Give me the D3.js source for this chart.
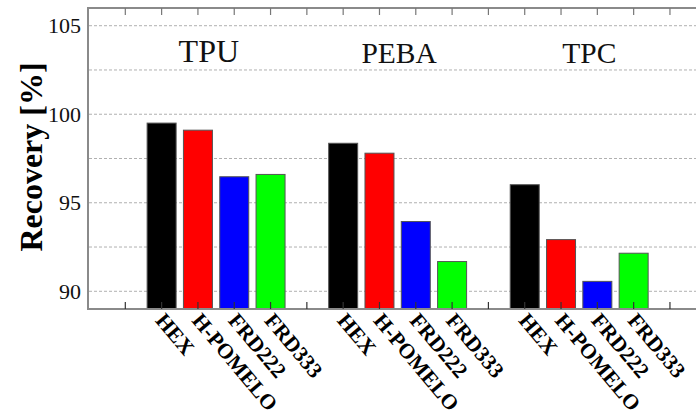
<!DOCTYPE html>
<html><head><meta charset="utf-8">
<script src="https://cdn.jsdelivr.net/npm/d3@7"></script>
<style>html,body{margin:0;padding:0;background:#fff;}svg{display:block;}
text{font-family:"Liberation Serif","Times New Roman",Times,serif;}</style>
</head><body>
<script>
const groups = ["TPU", "PEBA", "TPC"];
const methods = ["HEX", "H-POMELO", "FRD222", "FRD333"];
const tpuValues = [99.5, 99.1, 96.47, 96.6];
const pebaValues = [98.36, 97.8, 93.94, 91.68];
const tpcValues = [96.02, 92.92, 90.56, 92.15];
const yTickLabels = [90, 95, 100, 105];
const gridValues = [90, 92.5, 95, 97.5, 100, 102.5, 105];
const colors = ["#000000", "#ff0000", "#0000ff", "#00ff00"];

const seriesByGroup = [tpuValues, pebaValues, tpcValues];
const W = 696, H = 418;
const svg = d3.select("body").append("svg").attr("width", W).attr("height", H);

const x = d3.scaleLinear().domain([0, 17]).range([89, 89 + 17 * 36.31]);
const y = d3.scaleLinear().domain([89, 106]).range([309, 8]);
const slot = (g, m) => 2 + g * 5 + m;
const bw = 29;

// grid
svg.append("g").selectAll("line").data(gridValues).join("line")
  .attr("x1", 89).attr("x2", W).attr("y1", d => y(d)).attr("y2", d => y(d))
  .attr("stroke", "#b0b0b0").attr("stroke-width", 1).attr("stroke-dasharray", "3,2");

// bars
const bars = [];
seriesByGroup.forEach((vals, g) => vals.forEach((v, m) => bars.push({g, m, v})));
svg.append("g").selectAll("rect").data(bars).join("rect")
  .attr("x", d => x(slot(d.g, d.m)) - bw / 2)
  .attr("width", bw)
  .attr("y", d => y(d.v))
  .attr("height", d => y(89) - y(d.v))
  .attr("fill", d => colors[d.m])
  .attr("stroke", "#555").attr("stroke-width", 1);

// frame
const frame = svg.append("g");
frame.append("line").attr("x1", 88).attr("x2", 88).attr("y1", 8).attr("y2", 309).attr("stroke", "#8a8a8a").attr("stroke-width", 2);
frame.append("line").attr("x1", 87).attr("x2", W).attr("y1", 8).attr("y2", 8).attr("stroke", "#8a8a8a").attr("stroke-width", 2);
frame.append("line").attr("x1", 87).attr("x2", W).attr("y1", 309).attr("y2", 309).attr("stroke", "#8a8a8a").attr("stroke-width", 2);

// x ticks (top and bottom, inward)
const tickIdx = d3.range(1, 17);
svg.append("g").selectAll("line").data(tickIdx).join("line")
  .attr("x1", d => x(d)).attr("x2", d => x(d)).attr("y1", 8).attr("y2", 15)
  .attr("stroke", "#777").attr("stroke-width", 1.2);
svg.append("g").selectAll("line").data(tickIdx).join("line")
  .attr("x1", d => x(d)).attr("x2", d => x(d)).attr("y1", 309).attr("y2", 302)
  .attr("stroke", "#333").attr("stroke-width", 1.2);

// y tick labels
svg.append("g").selectAll("text").data(yTickLabels).join("text")
  .attr("x", 81).attr("y", d => y(d)).attr("dy", "0.34em")
  .attr("text-anchor", "end")
  .attr("font-size", 22).attr("fill", "#111")
  .text(d => d);

// y title
svg.append("text")
  .attr("transform", "translate(42,157) rotate(-90)")
  .attr("text-anchor", "middle")
  .attr("font-weight", "bold").attr("font-size", 32).attr("fill", "#000")
  .text("Recovery [%]");

// group titles
const titlePos = [3.30, 8.54, 13.78];
const titleSize = [32, 29.5, 29.5];
svg.append("g").selectAll("text").data(groups).join("text")
  .attr("x", (d, i) => x(titlePos[i])).attr("y", (d, i) => i === 0 ? 62 : 63)
  .attr("text-anchor", "middle")
  .attr("font-size", (d, i) => titleSize[i]).attr("fill", "#111")
  .text(d => d);

// x category labels
const labels = [];
groups.forEach((g, gi) => methods.forEach((m, mi) => labels.push({gi, mi, m})));
svg.append("g").selectAll("text").data(labels).join("text")
  .attr("transform", d => `translate(${x(slot(d.gi, d.mi)) - 7},321) rotate(50)`)
  .attr("text-anchor", "start")
  .attr("font-weight", "bold").attr("font-size", 21.5).attr("fill", "#000")
  .text(d => d.m);
</script>
</body></html>
